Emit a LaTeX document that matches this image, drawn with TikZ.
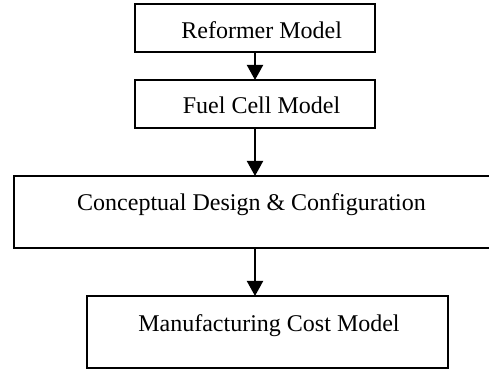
\documentclass[tikz,border=0pt]{standalone}
\usepackage{fontspec}
\setmainfont{Liberation Serif}
\usetikzlibrary{arrows.meta}
\begin{document}
\begin{tikzpicture}[x=1pt,y=1pt,
  box/.style={draw=black, line width=2pt, inner sep=0pt, outer sep=0pt},
  lbl/.style={font=\fontsize{24}{28}\selectfont, inner sep=0pt, anchor=base},
  flow/.style={line width=2pt, -{Triangle[width=16pt,length=15pt]}}]
\clip (0,0) rectangle (489,371);
\fill[white] (0,0) rectangle (489,371);
% process boxes
\node[box, minimum width=240pt, minimum height=48pt] (ref) at (255,343) {};
\node[box, minimum width=240pt, minimum height=48pt] (fc)  at (255,267) {};
\node[box, minimum width=478pt, minimum height=72pt] (cdc) at (253,159) {};
\node[box, minimum width=361pt, minimum height=72pt] (mcm) at (267.5,39) {};
% labels
\node[lbl] (tref) at ([xshift=6.7pt,yshift=-11pt]ref.center) {Reformer Model};
\node[lbl] (tfc)  at ([xshift=6.5pt,yshift=-10pt]fc.center) {Fuel Cell Model};
\node[lbl] (tcdc) at ([xshift=-1.5pt,yshift=1.3pt]cdc.center) {Conceptual Design \& Configuration};
\node[lbl] (tmcm) at ([xshift=1.5pt,yshift=0.3pt]mcm.center) {Manufacturing Cost Model};
% flow arrows
\draw[flow] (ref.south) -- (fc.north);
\draw[flow] (fc.south) -- (fc.south |- cdc.north);
\draw[flow] (cdc.south -| fc.south) -- (fc.south |- mcm.north);
\end{tikzpicture}
\end{document}
